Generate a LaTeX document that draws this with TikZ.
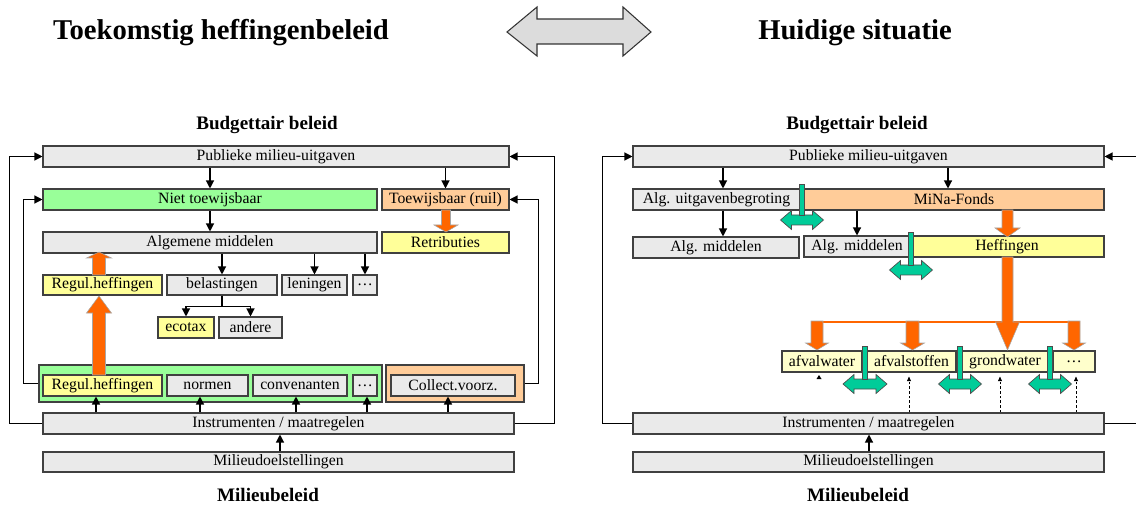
\documentclass[tikz,border=0pt]{standalone}
\usepackage{fontspec}
\setmainfont{Liberation Serif}
\usetikzlibrary{arrows.meta}

\definecolor{boxgray}{HTML}{EAEAEA}
\definecolor{boxline}{HTML}{404040}
\definecolor{lgreen}{HTML}{99FF99}
\definecolor{peach}{HTML}{FFCC99}
\definecolor{lyellow}{HTML}{FFFF99}
\definecolor{pyellow}{HTML}{FFFFCC}
\definecolor{blockorange}{HTML}{FF6600}
\definecolor{swapgreen}{HTML}{00CC99}
\definecolor{bigarrow}{HTML}{DCDCDC}

% box: name, style, x1, y1, x2, y2, text (pixel grid, y downwards)
\newcommand\mkbox[7]{%
  \node[box,#2,minimum width={(#5-#3)*0.75pt},minimum height={(#6-#4)*0.75pt}]
    (#1) at ({(#3+#5)/2},{(#4+#6)/2}) {#7};}
% vertical block arrow: x, y start, y head base, y tip, shaft half width, head half width
\newcommand\varrow[6]{%
  \filldraw[blockarr] ({#1-#5},#2) -- ({#1-#5},#3) -- ({#1-#6},#3) -- (#1,#4)
    -- ({#1+#6},#3) -- ({#1+#5},#3) -- ({#1+#5},#2) -- cycle;}
% exchange marker: bar centre x, bar top y, arrow centre y, arrow half length
\newcommand\swapmark[4]{%
  \filldraw[swapfill] ({#1-#4},#3) -- ({#1-#4+11},{#3-9.5}) -- ({#1-#4+11},{#3-5})
    -- ({#1+#4-11},{#3-5}) -- ({#1+#4-11},{#3-9.5}) -- ({#1+#4},#3)
    -- ({#1+#4-11},{#3+9.5}) -- ({#1+#4-11},{#3+5}) -- ({#1-#4+11},{#3+5})
    -- ({#1-#4+11},{#3+9.5}) -- cycle;
  \filldraw[swapfill] ({#1-2.2},#2) rectangle ({#1+2.2},{#3-5});}

\tikzset{
  box/.style={draw=boxline, line width=0.8pt, inner sep=0pt, fill=boxgray,
    font=\fontsize{11.8}{14}\selectfont},
  arr/.style={-{Triangle[length=6pt,width=6pt]}, line width=0.9pt},
  darr/.style={-{Triangle[length=3.5pt,width=3pt]}, line width=0.5pt, dashed,
    dash pattern=on 2pt off 1.5pt},
  fb/.style={line width=1.1pt},
  blockarr/.style={fill=blockorange, draw=gray!70, line width=0.4pt},
  swapfill/.style={fill=swapgreen, draw=black!70, line width=0.5pt},
  title/.style={font=\fontsize{21.5}{25}\selectfont\bfseries, anchor=base},
  subtitle/.style={font=\fontsize{14.3}{17}\selectfont\bfseries, anchor=base},
}

\begin{document}
\begin{tikzpicture}[x=0.75pt,y=-0.75pt]
\useasboundingbox (0,0) rectangle (1136,506);
\clip (0,0) rectangle (1136,506);

% headings
\node[title] (hl) at (221,40) {Toekomstig heffingenbeleid};
\node[title] (hr) at (855,40) {Huidige situatie};
\filldraw[fill=bigarrow, draw=black!80, line width=0.8pt]
  (507,32) -- (537,7) -- (537,19) -- (623,19) -- (623,7) -- (651,32)
  -- (623,56) -- (623,44) -- (537,44) -- (537,56) -- cycle;

% ---------------- left panel ----------------
\node[subtitle] (bbl) at (267,130) {Budgettair beleid};
\node[subtitle] (mbl) at (268,501) {Milieubeleid};

\mkbox{pubL}{}{43}{146}{509}{167}{Publieke milieu-uitgaven}
\mkbox{ntw}{fill=lgreen}{43}{189}{377}{210}{Niet toewijsbaar}
\mkbox{tw}{fill=peach}{382}{189}{509}{210}{Toewijsbaar (ruil)}
\mkbox{alg}{}{43}{232}{377}{253}{Algemene middelen}
\mkbox{ret}{fill=lyellow}{382}{232}{509}{253}{Retributies}
\mkbox{reg1}{fill=lyellow}{43}{275}{162}{295}{Regul.heffingen}
\mkbox{bel}{}{167}{275}{277}{295}{belastingen}
\mkbox{len}{}{282}{275}{347}{295}{leningen}
\mkbox{dotsA}{}{353}{275}{377}{295}{…}
\mkbox{eco}{fill=lyellow}{158}{317}{214}{338}{ecotax}
\mkbox{and}{}{219}{317}{282}{338}{andere}

\mkbox{gcont}{fill=lgreen}{39}{365}{382}{402}{}
\mkbox{ocont}{fill=peach}{386}{365}{524}{402}{}
\mkbox{reg2}{fill=lyellow}{43}{375}{162}{396}{Regul.heffingen}
\mkbox{norm}{}{167}{375}{248}{396}{normen}
\mkbox{conv}{}{253}{375}{347}{396}{convenanten}
\mkbox{dotsB}{}{353}{375}{377}{396}{…}
\mkbox{coll}{}{391}{375}{515}{396}{Collect.voorz.}
\mkbox{instrL}{}{43}{413}{514}{434}{Instrumenten / maatregelen}
\mkbox{mdL}{}{43}{452}{514}{472}{Milieudoelstellingen}

% flows downwards
\draw[arr] (pubL.south -| ntw.north) -- (ntw.north);
\draw[arr] (pubL.south -| tw.north) -- (tw.north);
\draw[arr] (ntw.south) -- (alg.north);
\draw[arr] (alg.south -| bel.north) -- (bel.north);
\draw[arr] (alg.south -| len.north) -- (len.north);
\draw[arr] (alg.south -| dotsA.north) -- (dotsA.north);
\draw[arr] (bel.south) -- ++(0,11) -| (eco.north);
\draw[arr] (bel.south) -- ++(0,11) -| (and.north);

% instruments feed the boxes above
\draw[arr] (instrL.north -| 96,0) -- (reg2.south -| 96,0);
\draw[arr] (instrL.north -| 200,0) -- (norm.south -| 200,0);
\draw[arr] (instrL.north -| 296,0) -- (conv.south -| 296,0);
\draw[arr] (instrL.north -| 367,0) -- (dotsB.south -| 367,0);
\draw[arr] (instrL.north -| 448,0) -- (coll.south -| 448,0);
\draw[arr] (mdL.north -| 280,0) -- (instrL.south -| 280,0);

% feedback loops
\draw[fb,arr] (instrL.west) -- ++(-33,0) |- (pubL.west);
\draw[fb,arr] (gcont.west) -- ++(-15,0) |- (ntw.west);
\draw[fb,arr] (instrL.east) -- ++(40,0) |- (pubL.east);
\draw[fb,arr] (ocont.east) -- ++(14,0) |- (tw.east);

% revenue block arrows
\varrow{446}{210}{225}{232}{4.5}{12}
\varrow{99}{275}{258}{252}{6.5}{12.5}
\varrow{99}{375}{313}{296}{6.5}{12.5}

% ---------------- right panel ----------------
\node[subtitle] (bbr) at (857,130) {Budgettair beleid};
\node[subtitle] (mbr) at (858,501) {Milieubeleid};

\mkbox{pubR}{}{633}{146}{1104}{167}{Publieke milieu-uitgaven}
\mkbox{aub}{}{633}{189}{800}{210}{Alg. uitgavenbegroting}
\mkbox{mina}{fill=peach}{804}{189}{1104}{210}{MiNa-Fonds}
\mkbox{amA}{}{633}{237}{799}{258}{Alg. middelen}
\mkbox{amB}{}{804}{236}{910}{257}{Alg. middelen}
\mkbox{hef}{fill=lyellow}{910}{236}{1104}{257}{Heffingen}
\mkbox{awat}{fill=pyellow}{782}{351}{862}{372}{afvalwater}
\mkbox{asto}{fill=pyellow}{867}{351}{956}{372}{afvalstoffen}
\mkbox{gwat}{fill=pyellow}{962}{351}{1048}{372}{grondwater}
\mkbox{dotsC}{fill=pyellow}{1053}{351}{1095}{372}{…}
\mkbox{instrR}{}{633}{413}{1104}{434}{Instrumenten / maatregelen}
\mkbox{mdR}{}{633}{452}{1104}{472}{Milieudoelstellingen}

\draw[arr] (pubR.south -| 723,0) -- (aub.north -| 723,0);
\draw[arr] (pubR.south -| 948,0) -- (mina.north -| 948,0);
\draw[arr] (aub.south -| 723,0) -- (amA.north -| 723,0);
\draw[arr] (mina.south -| 857,0) -- (amB.north -| 857,0);
\draw[arr] (mdR.north -| 869,0) -- (instrR.south -| 869,0);

% weak links from the instruments
\draw[darr,shorten >=3pt] (instrR.north -| 909,0) -- (asto.south -| 909,0);
\draw[darr,shorten >=3pt] (instrR.north -| 1000,0) -- (gwat.south -| 1000,0);
\draw[darr,shorten >=3pt] (instrR.north -| 1076,0) -- (dotsC.south -| 1076,0);
\fill (816.5,379) -- (821.5,379) -- (819,375) -- cycle;

% feedback loops
\draw[fb,arr] (instrR.west) -- ++(-30,0) |- (pubR.west);
\draw[fb,arr] (instrR.east) -- ++(50,0) |- (pubR.east);

% levy flows
\varrow{1007.5}{210}{228}{237}{5.5}{12.5}
\draw[blockorange, line width=1.6pt] (817,322) -- (1080,322);
\varrow{1007.5}{257}{322}{350}{5.5}{12}
\varrow{817}{321}{343}{350}{6}{11.5}
\varrow{912.5}{321}{343}{350}{6.5}{12}
\varrow{1074}{321}{343}{350}{6}{11.5}

% exchange markers between budgets
\swapmark{802}{184}{220}{21.5}
\swapmark{911}{232}{270}{21.5}
\swapmark{865}{346}{384}{22}
\swapmark{960}{346}{384}{21.5}
\swapmark{1050}{346}{384}{21.5}
\end{tikzpicture}
\end{document}
